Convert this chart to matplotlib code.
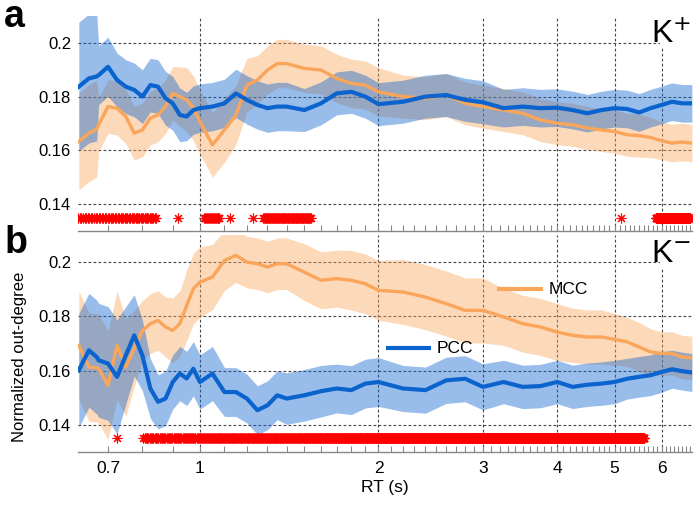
import numpy as np
import matplotlib
matplotlib.use("Agg")
from matplotlib import pyplot as plt
from matplotlib.ticker import FixedLocator, NullFormatter
from matplotlib.patches import Rectangle

plt.rcParams['font.family'] = ['Liberation Sans', 'DejaVu Sans']

# RT sample points (s)
rt = [0.625, 0.65, 0.67, 0.675, 0.7, 0.725, 0.75, 0.775, 0.8, 0.825, 0.85, 0.875,
      0.9, 0.925, 0.95, 0.975, 1.0, 1.05, 1.1, 1.15, 1.2, 1.25, 1.3, 1.35, 1.4,
      1.5, 1.6, 1.7, 1.8, 1.9, 2.0, 2.2, 2.4, 2.6, 2.8, 3.0, 3.25, 3.5, 3.75, 4.0,
      4.25, 4.5, 4.75, 5.0, 5.25, 5.5, 5.75, 6.0, 6.25, 6.5, 6.75]

# panel a (K+)
pcc_a = [0.1837, 0.1868, 0.1875, 0.188, 0.1911, 0.1862, 0.1837, 0.1825, 0.18, 0.1843,
         0.1837, 0.1794, 0.1775, 0.1732, 0.1726, 0.175, 0.1757, 0.1763, 0.1775, 0.1812,
         0.1788, 0.1769, 0.1757, 0.1763, 0.1763, 0.175, 0.1775, 0.1812, 0.1818, 0.18,
         0.1772, 0.1781, 0.18, 0.1806, 0.1788, 0.1779, 0.1757, 0.1763, 0.1757, 0.1759,
         0.175, 0.1738, 0.175, 0.1757, 0.1754, 0.1741, 0.1757, 0.1769, 0.1781, 0.1775, 0.1775]
pcc_a_err = [0.024, 0.024, 0.024, 0.011, 0.011, 0.010, 0.010, 0.010, 0.010, 0.010,
             0.010, 0.010, 0.010, 0.010, 0.009, 0.009, 0.009, 0.009, 0.009, 0.009,
             0.009, 0.009, 0.009, 0.009, 0.009, 0.008, 0.008, 0.008, 0.008, 0.008,
             0.008, 0.008, 0.008, 0.008, 0.008, 0.008, 0.007, 0.007, 0.007, 0.007,
             0.007, 0.007, 0.007, 0.007, 0.007, 0.007, 0.007, 0.007, 0.007, 0.007, 0.007]
mcc_a = [0.1633, 0.1664, 0.168, 0.1695, 0.1763, 0.1757, 0.1726, 0.1664, 0.1676, 0.172,
         0.1732, 0.1763, 0.1812, 0.18, 0.1788, 0.1757, 0.1707, 0.162, 0.1676, 0.1732,
         0.1843, 0.1862, 0.1899, 0.1923, 0.1923, 0.1905, 0.1899, 0.1868, 0.1849, 0.1843,
         0.1818, 0.18, 0.1794, 0.1806, 0.1775, 0.1763, 0.175, 0.1738, 0.1713, 0.1701,
         0.1695, 0.1683, 0.1676, 0.167, 0.1658, 0.1655, 0.1648, 0.1636, 0.1627, 0.1631, 0.1627]
mcc_a_err = [0.018, 0.018, 0.018, 0.010, 0.010, 0.010, 0.010, 0.010, 0.010, 0.010,
             0.010, 0.010, 0.010, 0.011, 0.012, 0.012, 0.012, 0.012, 0.012, 0.011,
             0.010, 0.009, 0.009, 0.009, 0.009, 0.009, 0.009, 0.009, 0.009, 0.009,
             0.009, 0.008, 0.008, 0.008, 0.008, 0.008, 0.008, 0.008, 0.008, 0.008,
             0.008, 0.008, 0.008, 0.008, 0.008, 0.008, 0.0075, 0.007, 0.007, 0.007, 0.007]

# panel b (K-)
pcc_b = [0.1601, 0.1675, 0.165, 0.1638, 0.1626, 0.1577, 0.1656, 0.173, 0.1656, 0.1534,
         0.1485, 0.1497, 0.1558, 0.1589, 0.1571, 0.1607, 0.1558, 0.1589, 0.1521, 0.1521,
         0.1497, 0.1454, 0.1472, 0.1509, 0.1497, 0.1509, 0.1524, 0.1534, 0.1528, 0.1552,
         0.1558, 0.1534, 0.1528, 0.1564, 0.157, 0.154, 0.1558, 0.154, 0.1543, 0.1558,
         0.154, 0.1548, 0.1552, 0.1558, 0.157, 0.1577, 0.1583, 0.1595, 0.1605, 0.1598, 0.1593]
pcc_b_err = [0.021, 0.021, 0.021, 0.021, 0.021, 0.021, 0.018, 0.015, 0.013, 0.011,
             0.010, 0.010, 0.010, 0.010, 0.010, 0.010, 0.010, 0.010, 0.009, 0.009,
             0.009, 0.009, 0.009, 0.009, 0.0095, 0.0095, 0.0095, 0.009, 0.009, 0.009,
             0.009, 0.0085, 0.0085, 0.0085, 0.0085, 0.0085, 0.008, 0.008, 0.008, 0.008,
             0.008, 0.008, 0.008, 0.008, 0.0075, 0.0075, 0.0075, 0.0075, 0.007, 0.007, 0.007]
mcc_b = [0.1693, 0.1613, 0.161, 0.1607, 0.1546, 0.1693, 0.1613, 0.1681, 0.1748, 0.1773,
         0.1785, 0.1761, 0.1748, 0.1773, 0.184, 0.1902, 0.1926, 0.1945, 0.2006, 0.2025,
         0.2, 0.1994, 0.1982, 0.1994, 0.1994, 0.1963, 0.1933, 0.1939, 0.1933, 0.192,
         0.1896, 0.189, 0.1871, 0.1847, 0.1822, 0.1822, 0.1798, 0.1773, 0.1761, 0.1742,
         0.173, 0.1724, 0.1724, 0.1715, 0.1706, 0.1687, 0.1669, 0.1663, 0.1663, 0.165, 0.1647]
mcc_b_err = [0.02, 0.02, 0.02, 0.02, 0.02, 0.02, 0.018, 0.014, 0.011, 0.011,
             0.011, 0.011, 0.012, 0.012, 0.013, 0.013, 0.013, 0.012, 0.011, 0.01,
             0.0095, 0.0095, 0.0095, 0.0095, 0.0095, 0.0105, 0.0105, 0.0105, 0.011, 0.011,
             0.011, 0.012, 0.012, 0.012, 0.012, 0.012, 0.0105, 0.0105, 0.0105, 0.0105,
             0.01, 0.01, 0.01, 0.0095, 0.009, 0.009, 0.0085, 0.008, 0.008, 0.008, 0.008]

# significant RT ranges (red asterisks)
sig_a = [(0.623, 0.845), (0.918, 0.918), (1.015, 1.082), (1.123, 1.123), (1.23, 1.23),
         (1.278, 1.54), (5.13, 5.13), (5.87, 6.7)]
sig_b = [(0.724, 0.724), (0.803, 5.61)]
sig_y = 0.135

xticks = [0.7, 1, 2, 3, 4, 5, 6]
xtick_labels = ['0.7', '1', '2', '3', '4', '5', '6']
yticks = [0.14, 0.16, 0.18, 0.2]
ytick_labels = ['0.14', '0.16', '0.18', '0.2']

BLUE = '#0b63ce'
ORANGE = '#f9a55a'

fig = plt.figure(figsize=(7, 5.05), dpi=100)
ax_a = fig.add_axes([0.1114, 0.5426, 0.877, 0.4257])
ax_b = fig.add_axes([0.1114, 0.105, 0.877, 0.4297])

rt_arr = np.array(rt)


def draw_panel(ax, pcc, pcc_err, mcc, mcc_err, sig, tag):
    pcc = np.array(pcc); pcc_err = np.array(pcc_err)
    mcc = np.array(mcc); mcc_err = np.array(mcc_err)
    ax.fill_between(rt_arr, mcc - mcc_err, mcc + mcc_err, color=ORANGE, alpha=0.42,
                    lw=0, zorder=2)
    ax.fill_between(rt_arr, pcc - pcc_err, pcc + pcc_err, color=BLUE, alpha=0.42,
                    lw=0, zorder=3)
    ax.plot(rt_arr, mcc, color=ORANGE, lw=2.4, zorder=4)
    ax.plot(rt_arr, pcc, color=BLUE, lw=3.0, zorder=5)

    for s, e in sig:
        xs = np.arange(s, e + 1e-9, 0.004)
        ax.plot(xs, np.full(len(xs), sig_y), ls='none', marker=(8, 2, 0),
                ms=7, mew=0.8, color='red', zorder=6)

    ax.set_xscale('log')
    ax.set_xlim(0.623, 6.75)
    ax.set_ylim(0.13, 0.21)

    for y in yticks:
        ax.axhline(y, color='#444444', lw=0.8, ls=(0, (2.5, 2)), zorder=1)
    for x in xticks[1:]:
        ax.axvline(x, color='#444444', lw=0.8, ls=(0, (2.5, 2)), zorder=1)

    for sp in ['top', 'right', 'left']:
        ax.spines[sp].set_visible(False)
    ax.spines['bottom'].set_color('#888888')
    ax.spines['bottom'].set_linewidth(1.0)

    ax.xaxis.set_major_locator(FixedLocator(xticks))
    ax.xaxis.set_minor_locator(FixedLocator(np.arange(0.7, 6.75, 0.1)))
    ax.xaxis.set_minor_formatter(NullFormatter())
    ax.tick_params(axis='x', which='both', direction='in', length=4.5, width=0.8,
                   color='#888888', labelsize=12.5, pad=6.5)
    ax.set_yticks(yticks)
    ax.set_yticklabels(ytick_labels)
    ax.tick_params(axis='y', length=0, labelsize=12, pad=5)

    # white patch behind the corner label
    ax.add_patch(Rectangle((0.948, 0.85), 0.06, 0.16, transform=ax.transAxes,
                           facecolor='white', edgecolor='none', zorder=7, clip_on=False))
    ax.text(0.999, 0.875, tag, transform=ax.transAxes, ha='right', va='baseline',
            fontsize=23, zorder=8)


draw_panel(ax_a, pcc_a, pcc_a_err, mcc_a, mcc_a_err, sig_a, r'K$^{+}$')
draw_panel(ax_b, pcc_b, pcc_b_err, mcc_b, mcc_b_err, sig_b, r'K$^{-}$')

ax_a.set_xticklabels([])
ax_b.set_xticklabels(xtick_labels)
ax_b.set_xlabel('RT (s)', fontsize=12.5, labelpad=3)
ax_b.set_ylabel('Normalized out-degree', fontsize=12)
ax_b.yaxis.set_label_coords(-0.083, 0.44)

# legend entries drawn as labels in panel b
ax_b.plot([0.682, 0.757], [0.751, 0.751], transform=ax_b.transAxes, color=ORANGE,
          lw=3, solid_capstyle='butt', zorder=8)
ax_b.text(0.766, 0.751, 'MCC', transform=ax_b.transAxes, va='center', fontsize=12.5,
          zorder=8)
ax_b.plot([0.502, 0.575], [0.479, 0.479], transform=ax_b.transAxes, color=BLUE,
          lw=3, solid_capstyle='butt', zorder=8)
ax_b.text(0.584, 0.479, 'PCC', transform=ax_b.transAxes, va='center', fontsize=12.5,
          zorder=8)

fig.text(0.006, 0.946, 'a', fontsize=27, fontweight='bold', va='baseline')
fig.text(0.006, 0.499, 'b', fontsize=27, fontweight='bold', va='baseline')

fig.savefig('out.png', dpi=100)
